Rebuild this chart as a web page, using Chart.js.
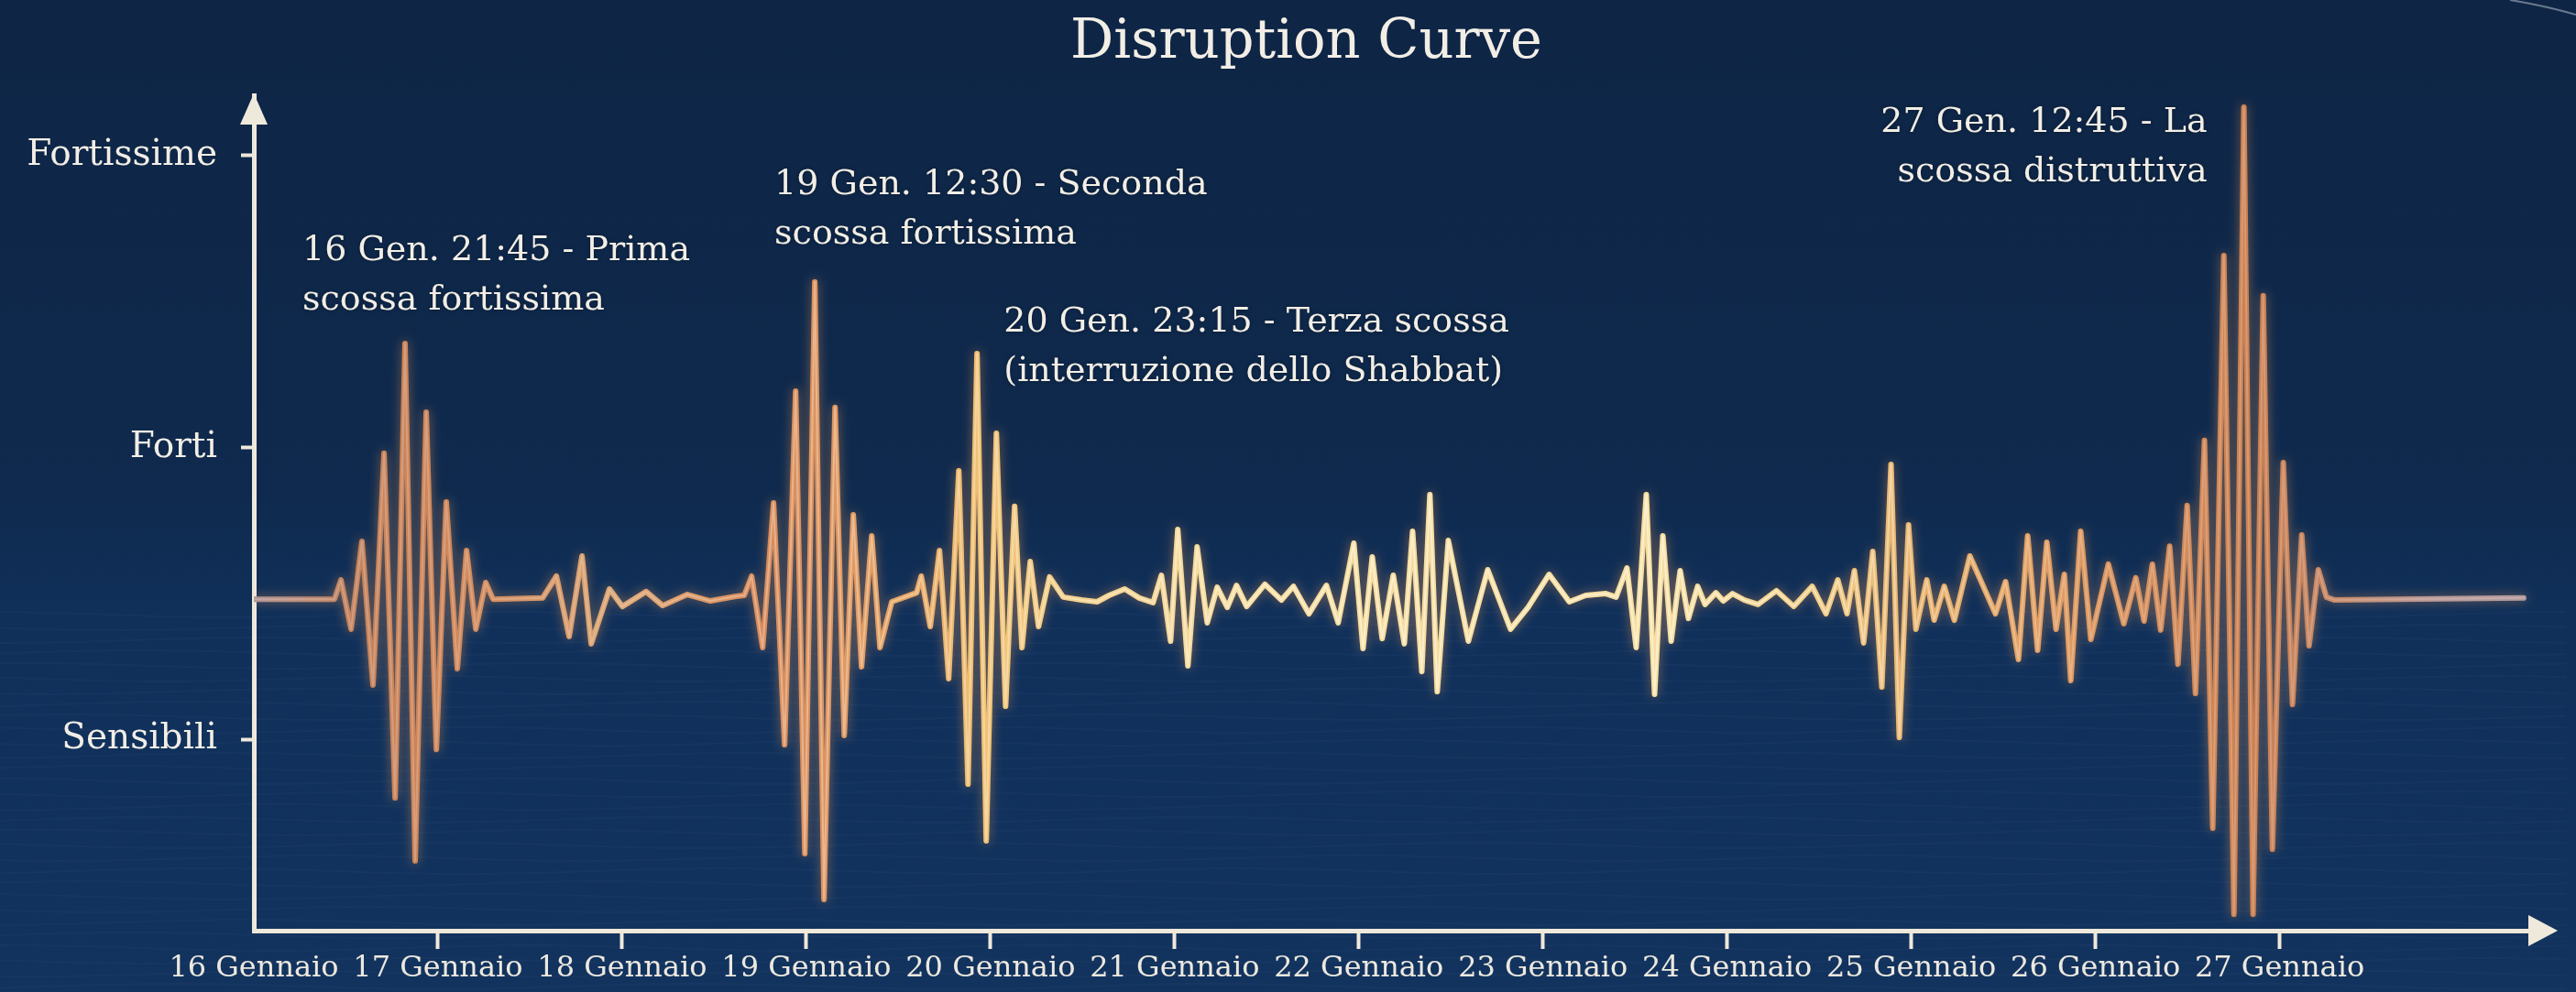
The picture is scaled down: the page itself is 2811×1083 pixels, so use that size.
<!DOCTYPE html>
<html>
<head>
<meta charset="utf-8">
<title>Disruption Curve</title>
<script src="https://cdn.jsdelivr.net/npm/chart.js@4.4.1/dist/chart.umd.min.js"></script>
<style>
  html, body { margin: 0; padding: 0; background: #0e2545; overflow: hidden; }
  canvas { display: block; }
</style>
</head>
<body>
<canvas id="chart" width="2811" height="1083" style="width:2811px;height:1083px"></canvas>
<script>
// ---------------- DATA ----------------
const chartTitle = 'Disruption Curve';

const dayLabels = ['16 Gennaio', '17 Gennaio', '18 Gennaio', '19 Gennaio', '20 Gennaio', '21 Gennaio',
  '22 Gennaio', '23 Gennaio', '24 Gennaio', '25 Gennaio', '26 Gennaio', '27 Gennaio'];

const levelValues = [1, 2, 3];
const levelLabels = ['Sensibili', 'Forti', 'Fortissime'];

// time in days after 16 Gennaio (x) and shock intensity (y) of the disruption curve
const dayOffset = [
  0, 0.438, 0.473, 0.528, 0.587, 0.647, 0.707, 0.767, 0.821, 0.876,
  0.936, 0.991, 1.045, 1.105, 1.155, 1.205, 1.259, 1.299, 1.568, 1.643,
  1.712, 1.782, 1.832, 1.931, 2.001, 2.130, 2.220, 2.354, 2.479, 2.618,
  2.663, 2.703, 2.763, 2.822, 2.882, 2.942, 2.992, 3.046, 3.096, 3.156,
  3.206, 3.255, 3.300, 3.355, 3.400, 3.464, 3.534, 3.599, 3.624, 3.673,
  3.723, 3.773, 3.828, 3.878, 3.927, 3.977, 4.032, 4.082, 4.131, 4.171,
  4.216, 4.261, 4.321, 4.395, 4.495, 4.579, 4.644, 4.729, 4.808, 4.883,
  4.928, 4.978, 5.017, 5.072, 5.122, 5.177, 5.231, 5.286, 5.336, 5.391,
  5.490, 5.580, 5.645, 5.729, 5.824, 5.888, 5.973, 6.023, 6.073, 6.127,
  6.187, 6.247, 6.292, 6.342, 6.386, 6.426, 6.486, 6.595, 6.700, 6.824,
  6.919, 7.033, 7.143, 7.232, 7.342, 7.397, 7.456, 7.506, 7.561, 7.606,
  7.651, 7.696, 7.745, 7.790, 7.840, 7.880, 7.939, 7.979, 8.029, 8.094,
  8.168, 8.268, 8.362, 8.462, 8.537, 8.601, 8.651, 8.691, 8.741, 8.791,
  8.840, 8.890, 8.935, 8.985, 9.025, 9.084, 9.124, 9.179, 9.234, 9.318,
  9.457, 9.512, 9.582, 9.632, 9.686, 9.736, 9.786, 9.831, 9.866, 9.920,
  9.975, 10.070, 10.154, 10.219, 10.264, 10.309, 10.354, 10.403, 10.448, 10.498,
  10.543, 10.592, 10.637, 10.697, 10.752, 10.806, 10.856, 10.911, 10.961, 11.020,
  11.070, 11.120, 11.160, 11.210, 11.254, 11.299, 12.325
];

const intensity = [
  1.480, 1.480, 1.546, 1.377, 1.678, 1.185, 1.980, 0.799, 2.356, 0.583,
  2.121, 0.965, 1.813, 1.242, 1.647, 1.377, 1.537, 1.480, 1.484, 1.559,
  1.352, 1.628, 1.327, 1.515, 1.455, 1.506, 1.458, 1.496, 1.474, 1.490,
  1.493, 1.559, 1.314, 1.810, 0.981, 2.193, 0.608, 2.567, 0.451, 2.137,
  1.013, 1.769, 1.248, 1.697, 1.314, 1.471, 1.487, 1.502, 1.559, 1.386,
  1.647, 1.207, 1.920, 0.846, 2.322, 0.652, 2.049, 1.113, 1.798, 1.314,
  1.609, 1.386, 1.556, 1.487, 1.477, 1.471, 1.493, 1.515, 1.484, 1.468,
  1.562, 1.336, 1.719, 1.251, 1.659, 1.399, 1.521, 1.452, 1.527, 1.455,
  1.531, 1.477, 1.524, 1.430, 1.527, 1.399, 1.672, 1.311, 1.625, 1.345,
  1.562, 1.327, 1.713, 1.232, 1.838, 1.163, 1.681, 1.336, 1.581, 1.377,
  1.452, 1.565, 1.471, 1.493, 1.499, 1.487, 1.587, 1.314, 1.838, 1.154,
  1.697, 1.336, 1.578, 1.414, 1.524, 1.462, 1.502, 1.474, 1.499, 1.477,
  1.462, 1.509, 1.455, 1.524, 1.430, 1.546, 1.430, 1.578, 1.330, 1.644,
  1.179, 1.942, 1.006, 1.735, 1.377, 1.546, 1.408, 1.524, 1.408, 1.628,
  1.430, 1.540, 1.273, 1.697, 1.305, 1.675, 1.377, 1.565, 1.201, 1.713,
  1.342, 1.600, 1.396, 1.553, 1.405, 1.600, 1.374, 1.662, 1.257, 1.801,
  1.157, 2.024, 0.695, 2.658, 0.400, 3.166, 0.400, 2.520, 0.623, 1.948,
  1.119, 1.700, 1.320, 1.581, 1.487, 1.477, 1.484
];

// event notes (text lines), anchored in data space (day, level)
const noteLines = [
  ['16 Gen. 21:45 - Prima', 'scossa fortissima'],
  ['19 Gen. 12:30 - Seconda', 'scossa fortissima'],
  ['20 Gen. 23:15 - Terza scossa', '(interruzione dello Shabbat)'],
  ['27 Gen. 12:45 - La', 'scossa distruttiva']
];
const noteDay = [0.264, 2.827, 4.072, 10.607];
const noteLevel = [2.673, 2.900, 2.429, 3.113];
const noteAlign = ['left', 'left', 'left', 'right'];

// ---------------- STYLE ----------------
const SERIF = "'DejaVu Serif', 'Liberation Serif', serif";
const AXIS_COLOR = '#efe9dc';
const TEXT_COLOR = '#f2eee6';

const outerStops = [
  [0.000, '#b09494'], [0.040, '#c4845e'], [0.070, '#cc8458'], [0.105, '#d28e62'],
  [0.160, '#dcaa7a'], [0.220, '#d88c5e'], [0.250, '#dc9462'], [0.290, '#e8ac6c'],
  [0.315, '#eec072'], [0.350, '#f2d08c'], [0.420, '#f5dca0'], [0.620, '#f6dea2'],
  [0.680, '#f0cc86'], [0.720, '#e8b670'], [0.780, '#e09e64'], [0.830, '#d48e5e'],
  [0.870, '#ca8052'], [0.905, '#c68a6a'], [0.950, '#b89a9a'], [1.000, '#b09aa0']
];
const innerStops = [
  [0.000, 'rgba(225,205,205,0.35)'], [0.100, 'rgba(245,205,180,0.35)'],
  [0.300, 'rgba(255,230,195,0.5)'], [0.450, 'rgba(255,246,220,0.7)'],
  [0.650, 'rgba(255,246,220,0.7)'], [0.800, 'rgba(248,210,180,0.38)'],
  [0.870, 'rgba(240,200,175,0.35)'], [1.000, 'rgba(220,205,210,0.35)']
];

const gradCache = {};
function lineGradient(chart, name, stops) {
  const a = chart.chartArea;
  if (!a) return stops[Math.floor(stops.length / 2)][1];
  const key = name + ':' + a.left + ':' + a.right;
  if (!gradCache[key]) {
    const g = chart.ctx.createLinearGradient(a.left, 0, a.right, 0);
    stops.forEach(([p, col]) => g.addColorStop(p, col));
    gradCache[key] = g;
  }
  return gradCache[key];
}

const points = dayOffset.map((d, i) => ({ x: d, y: intensity[i] }));

const backgroundPlugin = {
  id: 'bg',
  beforeDraw(chart) {
    const { ctx, width, height } = chart;
    ctx.save();
    const g = ctx.createLinearGradient(0, 0, 0, height);
    g.addColorStop(0, '#0e2545');
    g.addColorStop(0.5, '#0f2a4e');
    g.addColorStop(0.62, '#10305a');
    g.addColorStop(1, '#12335e');
    ctx.fillStyle = g;
    ctx.fillRect(0, 0, width, height);
    ctx.globalAlpha = 0.05;
    ctx.strokeStyle = '#6f8fb8';
    ctx.lineWidth = 2;
    for (let y = Math.round(height * 0.62); y < height; y += 14) {
      ctx.beginPath();
      for (let x = 0; x <= width; x += 40) {
        const yy = y + Math.sin(x / 90 + y) * 3;
        if (x === 0) ctx.moveTo(x, yy); else ctx.lineTo(x, yy);
      }
      ctx.stroke();
    }
    ctx.restore();
  }
};

const glowPlugin = {
  id: 'glow',
  beforeDatasetDraw(chart, args) {
    const c = chart.ctx;
    c.save();
    if (args.index === 1) {
      c.shadowColor = 'rgba(255,165,85,0.45)';
      c.shadowBlur = 12;
    }
  },
  afterDatasetDraw(chart) {
    chart.ctx.restore();
  }
};

const decorPlugin = {
  id: 'decor',
  afterDraw(chart) {
    const { ctx, chartArea: a, scales } = chart;
    ctx.save();

    // title
    ctx.fillStyle = TEXT_COLOR;
    ctx.font = '59px ' + SERIF;
    ctx.textAlign = 'center';
    ctx.textBaseline = 'middle';
    ctx.fillText(chartTitle, chart.width / 2 + 20, 48);

    ctx.fillStyle = AXIS_COLOR;
    // y axis arrow head
    ctx.beginPath();
    ctx.moveTo(a.left, a.top - 2);
    ctx.lineTo(a.left - 15, a.top + 32);
    ctx.lineTo(a.left + 15, a.top + 32);
    ctx.closePath();
    ctx.fill();
    // x axis arrow head
    ctx.beginPath();
    ctx.moveTo(a.right + 6, a.bottom);
    ctx.lineTo(a.right - 26, a.bottom - 17);
    ctx.lineTo(a.right - 26, a.bottom + 17);
    ctx.closePath();
    ctx.fill();

    // notes
    ctx.fillStyle = TEXT_COLOR;
    ctx.font = '38px ' + SERIF;
    ctx.textBaseline = 'middle';
    ctx.shadowColor = 'rgba(0,0,0,0.35)';
    ctx.shadowBlur = 4;
    noteLines.forEach((lines, i) => {
      const x = scales.x.getPixelForValue(noteDay[i]);
      const y = scales.y.getPixelForValue(noteLevel[i]);
      ctx.textAlign = noteAlign[i];
      lines.forEach((t, j) => ctx.fillText(t, x, y + j * 54));
    });

    // faint decorative arc in the top-right corner
    ctx.shadowBlur = 0;
    ctx.strokeStyle = 'rgba(220,225,235,0.45)';
    ctx.lineWidth = 2;
    ctx.beginPath();
    ctx.moveTo(chart.width - 72, 0);
    ctx.quadraticCurveTo(chart.width - 35, 6, chart.width, 16);
    ctx.stroke();
    ctx.restore();
  }
};

const chart = new Chart(document.getElementById('chart'), {
  type: 'line',
  data: {
    datasets: [
      {
        data: points,
        borderColor: c => lineGradient(c.chart, 'inner', innerStops),
        borderWidth: 2,
        pointRadius: 0,
        tension: 0,
        fill: false,
        borderJoinStyle: 'round',
        borderCapStyle: 'round'
      },
      {
        data: points,
        borderColor: c => lineGradient(c.chart, 'outer', outerStops),
        borderWidth: 6,
        pointRadius: 0,
        tension: 0,
        fill: false,
        borderJoinStyle: 'round',
        borderCapStyle: 'round'
      }
    ]
  },
  options: {
    responsive: false,
    devicePixelRatio: 1,
    animation: false,
    layout: { padding: { left: 0, right: 26, top: 104, bottom: 0 } },
    plugins: {
      legend: { display: false },
      tooltip: { enabled: false },
      title: { display: false }
    },
    scales: {
      x: {
        type: 'linear',
        min: 0,
        max: 12.48,
        afterBuildTicks: s => { s.ticks = dayLabels.map((_, i) => ({ value: i })); },
        afterFit: s => { s.height = 67; },
        ticks: {
          autoSkip: false,
          maxRotation: 0,
          minRotation: 0,
          callback: (v, i) => dayLabels[i],
          color: '#ece8df',
          font: { family: SERIF, size: 32 },
          padding: 2
        },
        grid: {
          drawOnChartArea: false,
          drawTicks: true,
          tickLength: 20,
          tickWidth: 4,
          tickColor: c => (c.index === 0 ? 'rgba(0,0,0,0)' : AXIS_COLOR)
        },
        border: { display: true, color: AXIS_COLOR, width: 5 }
      },
      y: {
        type: 'linear',
        min: 0.344,
        max: 3.207,
        afterBuildTicks: s => { s.ticks = levelValues.map(v => ({ value: v })); },
        afterFit: s => { s.width = 277; },
        ticks: {
          callback: (v, i) => levelLabels[i],
          color: TEXT_COLOR,
          font: { family: SERIF, size: 39 },
          padding: 26
        },
        grid: {
          drawOnChartArea: false,
          drawTicks: true,
          tickLength: 14,
          tickWidth: 4,
          tickColor: AXIS_COLOR
        },
        border: { display: true, color: AXIS_COLOR, width: 5 }
      }
    }
  },
  plugins: [backgroundPlugin, glowPlugin, decorPlugin]
});
</script>
</body>
</html>
